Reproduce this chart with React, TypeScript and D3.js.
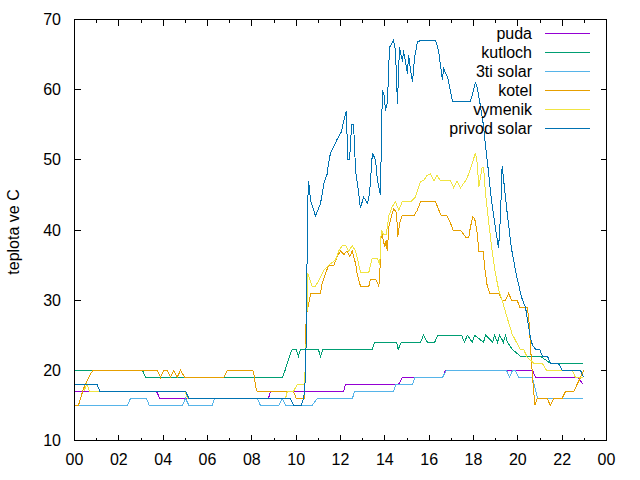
import React from "react";
import * as d3 from "d3";

// hour of day, temperature in C
const puda: [number, number][] = [
  [0, 17], [3.7, 17], [3.85, 16], [8.75, 16], [8.84, 17], [12.14, 17], [12.22, 18],
  [14.62, 18], [14.8, 19], [16.6, 19], [16.74, 20], [20.66, 20], [20.8, 19],
  [22.69, 19], [22.96, 18],
];

const kutloch: [number, number][] = [
  [0, 20], [3.07, 20], [3.2, 19], [9.38, 19], [9.5, 20], [9.6, 21], [9.7, 22],
  [9.82, 23], [10.0, 23], [10.1, 22], [10.2, 23], [11.0, 23], [11.1, 22], [11.2, 23],
  [13.44, 23], [13.53, 24], [14.53, 24], [14.6, 23], [14.75, 24], [15.61, 24],
  [15.74, 25], [15.92, 24], [16.25, 24], [16.38, 25], [17.46, 25], [17.6, 24],
  [17.72, 25], [17.95, 24], [18.05, 25], [18.45, 24], [18.55, 25], [18.86, 24],
  [18.95, 25], [19.08, 24], [19.18, 25], [19.35, 24], [19.45, 25], [19.53, 24],
  [19.75, 23], [20.12, 22], [21.02, 22], [21.47, 21], [22.96, 21],
];

const solar3: [number, number][] = [
  [0, 15], [2.38, 15], [2.53, 16], [3.25, 16], [3.37, 15], [4.86, 15], [5.01, 16],
  [5.16, 15], [6.21, 15], [6.32, 16], [8.24, 16], [8.39, 15], [9.22, 15], [9.37, 16],
  [9.52, 15], [10.72, 15], [10.95, 16], [12.54, 16], [12.63, 17], [14.39, 17],
  [14.5, 18], [15.25, 18], [15.35, 19], [16.6, 19], [16.78, 20], [19.49, 20],
  [19.62, 19], [19.76, 20], [19.89, 20], [20.03, 19], [20.66, 19], [20.89, 16],
  [22.96, 16],
];

const kotel: [number, number][] = [
  [0, 15], [0.18, 15], [0.27, 16], [0.42, 17.5], [0.57, 18.5], [0.72, 19.5], [0.84, 20],
  [3.74, 20], [3.88, 19], [4.03, 20], [4.18, 20], [4.33, 19], [4.48, 20], [4.63, 19],
  [4.78, 20], [4.98, 19], [6.74, 19], [6.89, 20], [8.05, 20], [8.12, 19], [8.17, 17.6],
  [8.24, 17], [9.88, 17], [10.0, 16], [10.38, 16], [10.45, 27.6], [10.53, 29],
  [10.65, 30.9], [11.1, 31], [11.17, 32.4], [11.32, 33.8], [11.47, 35], [11.7, 35],
  [11.85, 36.2], [12.0, 37], [12.15, 36.5], [12.3, 37], [12.42, 36.2], [12.53, 37],
  [12.68, 35.2], [12.75, 33.8], [12.9, 32], [13.28, 32], [13.35, 33], [13.58, 33],
  [13.73, 32], [13.77, 33.3], [13.84, 40], [13.93, 38.5], [14.0, 37.6], [14.06, 38.5],
  [14.11, 37], [14.18, 40.4], [14.33, 42.3], [14.4, 43], [14.53, 42.5], [14.58, 39],
  [14.67, 41], [14.78, 42], [15.31, 42], [15.46, 42.8], [15.61, 44], [16.29, 44],
  [16.44, 42.8], [16.55, 42], [16.81, 42], [16.96, 41], [17.08, 40], [17.41, 40],
  [17.64, 39], [17.79, 39], [17.86, 40.4], [17.97, 41.9], [18.06, 41.5], [18.17, 39.5],
  [18.24, 37], [18.44, 37], [18.51, 34.5], [18.62, 32], [18.73, 31], [19.14, 31],
  [19.29, 30], [19.44, 30], [19.59, 31], [19.71, 30], [19.97, 30], [20.09, 29],
  [20.42, 29], [20.49, 27.6], [20.6, 22], [20.69, 18], [20.77, 15], [20.88, 16],
  [21.32, 16], [21.47, 15], [21.62, 16], [22.0, 16], [22.15, 17], [22.52, 17],
  [22.83, 19], [22.97, 20],
];

const vymenik: [number, number][] = [
  [0.42, 17], [0.55, 18], [0.69, 17], [5.0, 17], [5.1, 16], [9.52, 16], [9.6, 17],
  [9.88, 17], [10.05, 18], [10.38, 18], [10.47, 26], [10.53, 33.8], [10.65, 32.6],
  [10.72, 32], [10.87, 32], [11.02, 32.8], [11.25, 34.3], [11.47, 35], [11.77, 35.7],
  [11.92, 37], [12.08, 37.8], [12.23, 37.8], [12.37, 37], [12.53, 37.8], [12.68, 37],
  [12.83, 35], [12.9, 34], [13.28, 34], [13.43, 36], [13.66, 36], [13.77, 35],
  [13.84, 40], [13.95, 39.3], [14.06, 39.3], [14.18, 42], [14.33, 43.3], [14.48, 44],
  [14.63, 42.8], [14.78, 44], [15.16, 44], [15.38, 44.7], [15.61, 46.9], [15.76, 47.1],
  [15.91, 47.8], [16.06, 48], [16.21, 47], [16.36, 47.8], [16.51, 47], [16.96, 47],
  [17.11, 46], [17.26, 47], [17.41, 46], [17.64, 47], [17.79, 48], [17.94, 49.5],
  [18.09, 51], [18.17, 49.5], [18.24, 46.1], [18.32, 47.6], [18.39, 49], [18.46, 48.8],
  [18.54, 45.2], [18.69, 41], [18.84, 37], [18.99, 33.8], [19.14, 31.4], [19.29, 30],
  [19.52, 27.5], [19.74, 25.2], [19.97, 23.8], [20.12, 22.9], [20.27, 22.9],
  [20.42, 21.9], [20.72, 21], [21.1, 21], [21.29, 20], [22.45, 20], [22.6, 19],
  [22.96, 19],
];

const privodSolar: [number, number][] = [
  [0, 18], [1.02, 18], [1.14, 17], [5.01, 17], [5.16, 16], [9.74, 16], [9.89, 15],
  [10.23, 15], [10.34, 16], [10.42, 19], [10.47, 27.6], [10.51, 43], [10.56, 47],
  [10.65, 44.2], [10.87, 42], [11.1, 43.8], [11.25, 46.6], [11.4, 48], [11.46, 49.5],
  [11.55, 51], [11.86, 53], [12.04, 54], [12.18, 56], [12.27, 57], [12.32, 50],
  [12.41, 50], [12.5, 55], [12.59, 55], [12.68, 48.5], [12.81, 45.5], [12.9, 43.1],
  [13.04, 44.7], [13.22, 43.8], [13.31, 45.2], [13.44, 51], [13.58, 50], [13.67, 47],
  [13.8, 45], [13.89, 60], [13.98, 59], [14.03, 57], [14.12, 58.3], [14.21, 66],
  [14.39, 67], [14.48, 65.6], [14.57, 58], [14.66, 66], [14.8, 64], [14.84, 65.6],
  [15.02, 62.3], [15.07, 65], [15.16, 62.8], [15.25, 61.1], [15.34, 64.5],
  [15.47, 66.8], [15.61, 67], [16.29, 67], [16.42, 65.6], [16.6, 61.4], [16.65, 63],
  [16.83, 61.8], [17.05, 58.3], [17.86, 58.3], [18.09, 61], [18.14, 60.7],
  [18.27, 58.5], [18.45, 54.9], [18.54, 52.1], [18.68, 48.2], [18.81, 44.2],
  [18.95, 41.1], [19.13, 37.4], [19.22, 42.1], [19.29, 49.1], [19.35, 47.4],
  [19.53, 42.1], [19.71, 37.4], [19.94, 33.5], [20.17, 30.4], [20.35, 28.9],
  [20.48, 26.4], [20.57, 24.6], [20.66, 23.6], [20.8, 23], [20.98, 23], [21.11, 22],
  [21.34, 22], [21.47, 21], [21.83, 21], [22.01, 20], [22.83, 20], [22.96, 19],
];

const seriesNames = ["puda", "kutloch", "3ti solar", "kotel", "vymenik", "privod solar"];
const seriesData = [puda, kutloch, solar3, kotel, vymenik, privodSolar];
const seriesColors = ["#9400d3", "#009e73", "#56b4e9", "#e69f00", "#f0e442", "#0072b2"];

const xTickHours = d3.range(0, 25, 2);
const xTickLabels = ["00", "02", "04", "06", "08", "10", "12", "14", "16", "18", "20", "22", "00"];
const yTicks = [10, 20, 30, 40, 50, 60, 70];

const FONT = "'Liberation Sans', Arial, sans-serif";

export default function App() {
  const width = 640;
  const height = 480;
  const left = 74.5;
  const right = 606.5;
  const top = 19.5;
  const bottom = 440.5;

  const x = d3.scaleLinear().domain([0, 24]).range([left, right]);
  const y = d3.scaleLinear().domain([10, 70]).range([bottom, top]);

  const line = d3
    .line<[number, number]>()
    .x((d) => x(d[0]))
    .y((d) => y(d[1]));

  const minorHours = d3.range(1, 24, 2);

  return (
    <svg
      width={width}
      height={height}
      style={{ position: "absolute", left: 0, top: 0, background: "#fff" }}
      fontFamily={FONT}
    >
      <rect x={0} y={0} width={width} height={height} fill="#fff" />

      {/* tick marks, mirrored on top and right */}
      <g stroke="#000" strokeWidth={1} shapeRendering="crispEdges">
        {yTicks.map((t) => (
          <g key={"y" + t}>
            <line x1={left} x2={left + 6} y1={y(t)} y2={y(t)} />
            <line x1={right - 6} x2={right} y1={y(t)} y2={y(t)} />
          </g>
        ))}
        {xTickHours.map((h) => (
          <g key={"x" + h}>
            <line x1={x(h)} x2={x(h)} y1={bottom} y2={bottom - 6} />
            <line x1={x(h)} x2={x(h)} y1={top} y2={top + 6} />
          </g>
        ))}
        {minorHours.map((h) => (
          <g key={"m" + h}>
            <line x1={x(h)} x2={x(h)} y1={bottom} y2={bottom - 3} />
            <line x1={x(h)} x2={x(h)} y1={top} y2={top + 3} />
          </g>
        ))}
      </g>

      {/* data lines */}
      <g fill="none" strokeWidth={1} shapeRendering="crispEdges">
        {seriesData.map((pts, i) => (
          <path key={seriesNames[i]} d={line(pts) ?? ""} stroke={seriesColors[i]} />
        ))}
      </g>

      {/* frame */}
      <rect
        x={left}
        y={top}
        width={right - left}
        height={bottom - top}
        fill="none"
        stroke="#000"
        shapeRendering="crispEdges"
      />

      {/* tick labels */}
      <g fontSize={16} fill="#000">
        {yTicks.map((t) => (
          <text key={"yl" + t} x={61} y={y(t) + 5.5} textAnchor="end">
            {t}
          </text>
        ))}
        {xTickHours.map((h, i) => (
          <text key={"xl" + i} x={x(h)} y={465} textAnchor="middle">
            {xTickLabels[i]}
          </text>
        ))}
      </g>

      <text
        transform="translate(19,232) rotate(-90)"
        textAnchor="middle"
        fontSize={16}
        fill="#000"
      >
        teplota ve C
      </text>

      {/* legend */}
      <g fontSize={16}>
        {seriesNames.map((name, i) => {
          const ly = 33.5 + i * 19;
          return (
            <g key={"lg" + name}>
              <text x={532} y={ly + 5.5} textAnchor="end" fill="#000">
                {name}
              </text>
              <line
                x1={545}
                x2={590}
                y1={ly}
                y2={ly}
                stroke={seriesColors[i]}
                shapeRendering="crispEdges"
              />
            </g>
          );
        })}
      </g>
    </svg>
  );
}
